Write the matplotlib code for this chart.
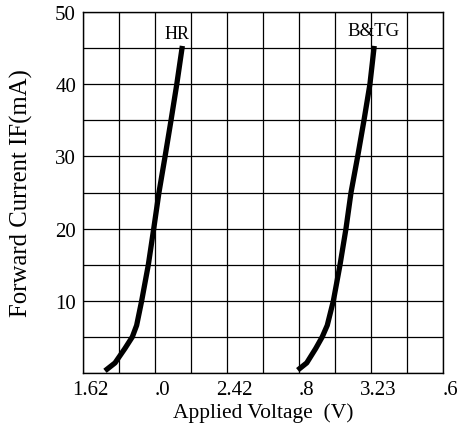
import matplotlib
matplotlib.use("Agg")
import matplotlib.pyplot as plt
import matplotlib.transforms as mtransforms
import numpy as np

plt.rcParams['font.family'] = ['Liberation Serif', 'DejaVu Serif']

# Data
hr_voltage = [1.742, 1.798, 1.853, 1.894, 1.918, 1.946, 1.983, 2.013, 2.042, 2.076, 2.109, 2.141, 2.172]
hr_current = [0.3, 1.4, 3.4, 5.0, 6.6, 10.0, 15.0, 20.0, 25.0, 30.0, 35.0, 40.0, 45.3]
btg_voltage = [2.813, 2.863, 2.913, 2.949, 2.977, 3.011, 3.048, 3.081, 3.109, 3.146, 3.181, 3.214, 3.238]
btg_current = [0.4, 1.4, 3.4, 5.0, 6.6, 10.0, 15.0, 20.0, 25.0, 30.0, 35.0, 40.0, 45.3]

x_tick_values = [1.62, 2.02, 2.42, 2.82, 3.22, 3.62]
x_tick_labels = ["1.62", ".0", "2.42", ".8", "3.23", ".6"]
y_tick_values = [10, 20, 30, 40, 50]
y_tick_labels = ["10", "20", "30", "40", "50"]

fig = plt.figure(figsize=(4.59, 4.39), dpi=100)
ax = fig.add_axes([83/459, 65/439, 360/459, 361/439])

x0, x1 = 1.62, 3.62
ax.set_xlim(x0, x1)
ax.set_ylim(0, 50)

# grid
for gx in np.arange(x0, x1 + 1e-6, 0.2):
    ax.axvline(gx, color='black', lw=0.9, zorder=1)
for gy in np.arange(0, 50.1, 5):
    ax.axhline(gy, color='black', lw=0.9, zorder=1)

ax.plot(hr_voltage, hr_current, color='black', lw=3.8, solid_capstyle='butt',
        solid_joinstyle='round', zorder=3)
ax.plot(btg_voltage, btg_current, color='black', lw=3.8, solid_capstyle='butt',
        solid_joinstyle='round', zorder=3)

ax.text(2.145, 47.0, "HR", fontsize=13, ha='center', va='center')
ax.text(3.235, 47.4, "B&TG", fontsize=13.5, ha='center', va='center')

ax.set_xticks(x_tick_values)
ax.set_xticklabels(x_tick_labels, fontsize=15)
ax.set_yticks(y_tick_values)
ax.set_yticklabels(y_tick_labels, fontsize=15)
ax.tick_params(length=0, pad=5)

offset = mtransforms.ScaledTranslation(7/100, 0, fig.dpi_scale_trans)
for lab in ax.get_xticklabels():
    lab.set_transform(lab.get_transform() + offset)

for s in ax.spines.values():
    s.set_linewidth(1.0)

ax.set_xlabel("Applied Voltage  (V)", fontsize=15.5, labelpad=2.5)
ax.set_ylabel("Forward Current IF(mA)", fontsize=17.8, labelpad=16)

fig.savefig("out.png", dpi=100)
